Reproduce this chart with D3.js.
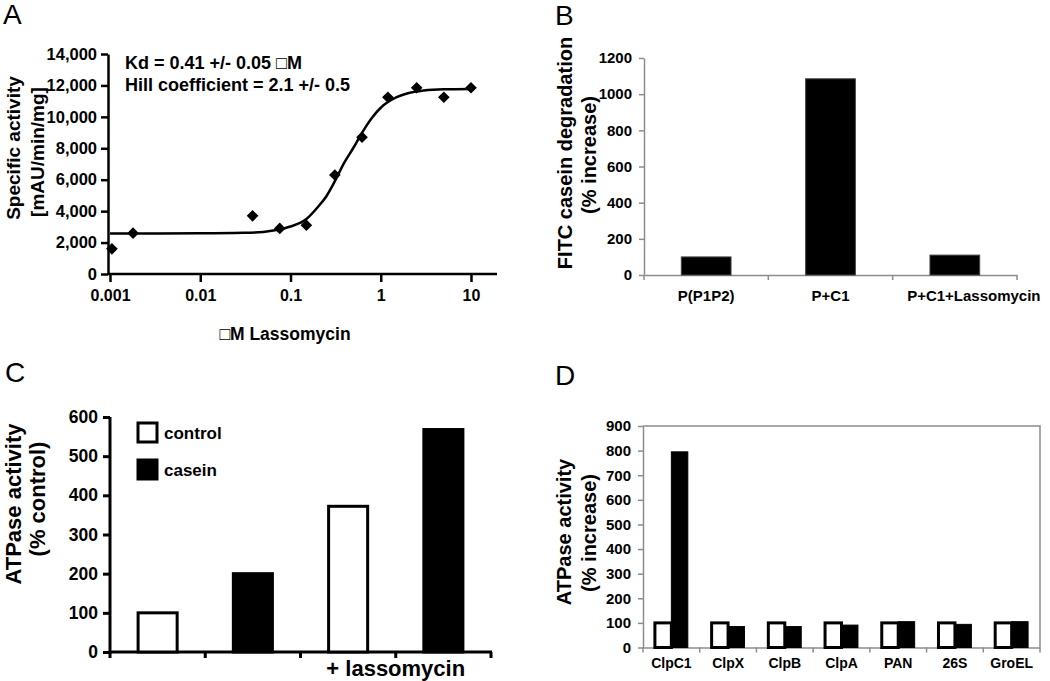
<!DOCTYPE html>
<html>
<head>
<meta charset="utf-8">
<script src="https://cdn.jsdelivr.net/npm/d3@7"></script>
<style>
  html, body { margin: 0; padding: 0; background: #fff; }
  svg { display: block; }
  text { font-family: "Liberation Sans", Arial, sans-serif; }
</style>
</head>
<body>
<svg id="chart" width="1050" height="681"></svg>
<script>
// ---------- DATA ----------
// Panel A: specific activity vs lassomycin concentration (µM)
const aConc = [0.00105, 0.0018, 0.038, 0.076, 0.15, 0.31, 0.62, 1.2, 2.5, 5, 10];
const aActivity = [1600, 2600, 3700, 2900, 3100, 6300, 8700, 11250, 11850, 11250, 11850];
// fitted curve
const aFitConc = [0.001, 0.01, 0.03, 0.05, 0.07, 0.1, 0.15, 0.2, 0.25, 0.3, 0.4, 0.5, 0.6, 0.8, 1, 1.5, 2, 3, 5, 10];
const aFitActivity = [2580, 2590, 2620, 2680, 2800, 3020, 3500, 4250, 4950, 5750, 7150, 8050, 8850, 9950, 10580, 11250, 11500, 11680, 11760, 11780];
const aYTicks = [0, 2000, 4000, 6000, 8000, 10000, 12000, 14000];
const aXTicks = [0.001, 0.01, 0.1, 1, 10];
const aXTickLabels = ["0.001", "0.01", "0.1", "1", "10"];
const aNote = ["Kd = 0.41 +/- 0.05 \u25A1M", "Hill coefficient = 2.1 +/- 0.5"];

// Panel B: FITC casein degradation
const bCategories = ["P(P1P2)", "P+C1", "P+C1+Lassomycin"];
const bValues = [100, 1085, 110];
const bYTicks = [0, 200, 400, 600, 800, 1000, 1200];

// Panel C: ATPase activity (% control)
const cConditions = ["control", "casein", "control + lassomycin", "casein + lassomycin"];
const cTreatment = ["control", "casein", "control", "casein"];
const cValues = [100, 200, 372, 568];
const cYTicks = [0, 100, 200, 300, 400, 500, 600];
const cLegend = ["control", "casein"];

// Panel D: ATPase activity (% increase) across AAA+ proteins
const dCategories = ["ClpC1", "ClpX", "ClpB", "ClpA", "PAN", "26S", "GroEL"];
const dControl = [100, 100, 100, 100, 100, 100, 100];
const dCasein = [795, 85, 85, 91, 105, 94, 105];
const dYTicks = [0, 100, 200, 300, 400, 500, 600, 700, 800, 900];

// ---------- DRAWING ----------
const svg = d3.select("#chart");
svg.append("rect").attr("width", 1050).attr("height", 681).attr("fill", "#fff");

const FONT = '"Liberation Sans", Arial, sans-serif';

function styleAxis(g, size, color, width) {
  g.attr("font-family", FONT).attr("font-size", size).attr("font-weight", "bold");
  g.selectAll("text").attr("fill", "#000");
  g.selectAll("line").attr("stroke", color).attr("stroke-width", width);
  g.selectAll(".domain").attr("stroke", color).attr("stroke-width", width);
}
function vLabel(x, y, txt, size) {
  svg.append("text")
    .attr("transform", `translate(${x},${y}) rotate(-90)`)
    .attr("text-anchor", "middle").attr("dy", "0.35em")
    .attr("font-size", size).attr("font-weight", "bold").text(txt);
}
function panelLetter(x, y, txt) {
  svg.append("text").attr("x", x).attr("y", y).attr("font-size", 28)
    .attr("font-family", FONT).text(txt);
}

// ===== Panel A =====
{
  const x = d3.scaleLog().domain([0.001, 10]).range([110, 471]);
  const y = d3.scaleLinear().domain([0, 14000]).range([274, 54]);
  const axX = 108;
  const gy = svg.append("g").attr("transform", `translate(${axX},0)`)
    .call(d3.axisLeft(y).tickValues(aYTicks).tickFormat(d3.format(",")).tickSize(7).tickSizeOuter(0).tickPadding(4));
  styleAxis(gy, 16.5, "#000", 2.5);
  const gx = svg.append("g").attr("transform", `translate(0,${y(0)})`)
    .call(d3.axisBottom(x).tickValues(aXTicks).tickFormat((d, i) => aXTickLabels[i]).tickSize(8).tickSizeOuter(0).tickPadding(8));
  gx.select(".domain").remove();
  styleAxis(gx, 16, "#000", 2.5);
  gx.append("line").attr("x1", axX).attr("x2", x(10) + 26)
    .attr("stroke", "#000").attr("stroke-width", 2.5);

  const line = d3.line().x((d, i) => x(aFitConc[i])).y(d => y(d)).curve(d3.curveMonotoneX);
  svg.append("path").attr("d", line(aFitActivity)).attr("fill", "none")
    .attr("stroke", "#000").attr("stroke-width", 2.5);

  svg.append("g").selectAll("path").data(aActivity).join("path")
    .attr("d", d3.symbol(d3.symbolSquare, 68))
    .attr("transform", (d, i) => `translate(${x(aConc[i])},${y(d)}) rotate(45)`)
    .attr("fill", "#000");

  svg.append("text").attr("x", 125).attr("y", 69).attr("font-size", 18).attr("font-weight", "bold").text(aNote[0]);
  svg.append("text").attr("x", 125).attr("y", 91).attr("font-size", 18).attr("font-weight", "bold").text(aNote[1]);

  svg.append("text").attr("x", 285).attr("y", 340).attr("text-anchor", "middle")
    .attr("font-size", 17.5).attr("font-weight", "bold").text("\u25A1M Lassomycin");
  vLabel(13, 148, "Specific activity", 19);
  vLabel(37, 152, "[mAU/min/mg]", 19);
  panelLetter(3, 24, "A");
}

// ===== Panel B =====
{
  const x = d3.scaleBand().domain(bCategories).range([644, 1017]);
  const y = d3.scaleLinear().domain([0, 1200]).range([275, 58]);
  const gy = svg.append("g").attr("transform", `translate(${x.range()[0]},0)`)
    .call(d3.axisLeft(y).tickValues(bYTicks).tickFormat(d3.format("d")).tickSize(5).tickSizeOuter(0).tickPadding(7));
  styleAxis(gy, 15, "#8c8c8c", 1.5);
  const gx = svg.append("g").attr("transform", `translate(0,${y(0)})`)
    .call(d3.axisBottom(x).tickSize(0).tickPadding(15));
  styleAxis(gx, 15, "#8c8c8c", 1.5);
  gx.selectAll(".tick text").attr("dx", (d, i) => i === bCategories.length - 1 ? 19 : 0);
  // boundary tick marks
  const bounds = bCategories.map(c => x(c)).concat([x.range()[1]]);
  gx.selectAll(".btick").data(bounds).join("line").attr("class", "btick")
    .attr("x1", d => d).attr("x2", d => d).attr("y1", 0).attr("y2", 5)
    .attr("stroke", "#8c8c8c").attr("stroke-width", 1.5);

  const bw = x.bandwidth() * 0.4;
  svg.append("g").selectAll("rect").data(bValues).join("rect")
    .attr("x", (d, i) => x(bCategories[i]) + (x.bandwidth() - bw) / 2)
    .attr("width", bw)
    .attr("y", d => y(d)).attr("height", d => y(0) - y(d))
    .attr("fill", "#000").attr("stroke", "#444").attr("stroke-width", 1);

  vLabel(565, 153, "FITC casein degradation", 20);
  vLabel(589, 155, "(% increase)", 20);
  panelLetter(555, 25, "B");
}

// ===== Panel C =====
{
  const x = d3.scaleBand().domain(cConditions).range([110, 491]);
  const y = d3.scaleLinear().domain([0, 600]).range([652, 417]);
  const gy = svg.append("g").attr("transform", `translate(${x.range()[0]},0)`)
    .call(d3.axisLeft(y).tickValues(cYTicks).tickSize(7).tickSizeOuter(0).tickPadding(5));
  styleAxis(gy, 17.5, "#000", 3);
  gy.select(".domain").attr("d", `M0,${y(600)}V${y(0) + 1.5}`);
  const gx = svg.append("g").attr("transform", `translate(0,${y(0)})`);
  gx.append("line").attr("x1", x.range()[0] - 1.5).attr("x2", x.range()[1] + 1)
    .attr("stroke", "#000").attr("stroke-width", 3);
  const bounds = cConditions.map(c => x(c)).concat([x.range()[1]]);
  gx.selectAll(".btick").data(bounds).join("line").attr("class", "btick")
    .attr("x1", d => d).attr("x2", d => d).attr("y1", 0).attr("y2", 6)
    .attr("stroke", "#000").attr("stroke-width", 3);

  const bw = x.bandwidth() * 0.41;
  svg.append("g").selectAll("rect").data(cValues).join("rect")
    .attr("x", (d, i) => x(cConditions[i]) + (x.bandwidth() - bw) / 2)
    .attr("width", bw)
    .attr("y", d => y(d)).attr("height", d => y(0) - y(d))
    .attr("fill", (d, i) => cTreatment[i] === "control" ? "#fff" : "#000")
    .attr("stroke", "#000").attr("stroke-width", 3);

  // group label centred between the lassomycin bars
  svg.append("text").attr("x", x(cConditions[3])).attr("y", 676).attr("text-anchor", "middle")
    .attr("font-size", 22).attr("font-weight", "bold").text("+ lassomycin");

  // legend
  const lg = svg.append("g").attr("transform", "translate(138,423)");
  lg.selectAll("rect").data(cLegend).join("rect")
    .attr("x", 0).attr("y", (d, i) => i * 37).attr("width", 19).attr("height", 19)
    .attr("fill", d => d === "control" ? "#fff" : "#000")
    .attr("stroke", "#000").attr("stroke-width", 3);
  lg.selectAll("text").data(cLegend).join("text")
    .attr("x", 26).attr("y", (d, i) => i * 37 + 10).attr("dy", "0.35em")
    .attr("font-size", 17).attr("font-weight", "bold").text(d => d);

  vLabel(13, 504, "ATPase activity", 22);
  vLabel(37, 499, "(% control)", 22);
  panelLetter(5, 382, "C");
}

// ===== Panel D =====
{
  const x = d3.scaleBand().domain(dCategories).range([643, 1040]);
  const sub = d3.scaleBand().domain(["control", "casein"]).range([x.bandwidth() * 0.21, x.bandwidth() * 0.79]);
  const y = d3.scaleLinear().domain([0, 900]).range([647.5, 426]);
  const gy = svg.append("g").attr("transform", `translate(${x.range()[0]},0)`)
    .call(d3.axisLeft(y).tickValues(dYTicks).tickSize(5).tickSizeOuter(0).tickPadding(7));
  styleAxis(gy, 15, "#8c8c8c", 1.5);
  // frame top & right
  svg.append("path").attr("d", `M${x.range()[0]},${y(900)}H${x.range()[1]}V${y(0)}`)
    .attr("fill", "none").attr("stroke", "#8c8c8c").attr("stroke-width", 1.5);
  const gx = svg.append("g").attr("transform", `translate(0,${y(0)})`)
    .call(d3.axisBottom(x).tickSize(0).tickPadding(11));
  styleAxis(gx, 14, "#8c8c8c", 1.5);
  const bounds = dCategories.map(c => x(c)).concat([x.range()[1]]);
  gx.selectAll(".btick").data(bounds).join("line").attr("class", "btick")
    .attr("x1", d => d).attr("x2", d => d).attr("y1", 0).attr("y2", 5)
    .attr("stroke", "#8c8c8c").attr("stroke-width", 1.5);

  const bars = svg.append("g");
  bars.selectAll("rect.ctl").data(dControl).join("rect").attr("class", "ctl")
    .attr("x", (d, i) => x(dCategories[i]) + sub("control"))
    .attr("width", sub.bandwidth())
    .attr("y", d => y(d)).attr("height", d => y(0) - y(d))
    .attr("fill", "#fff").attr("stroke", "#000").attr("stroke-width", 3);
  bars.selectAll("rect.cas").data(dCasein).join("rect").attr("class", "cas")
    .attr("x", (d, i) => x(dCategories[i]) + sub("casein"))
    .attr("width", sub.bandwidth())
    .attr("y", d => y(d)).attr("height", d => y(0) - y(d))
    .attr("fill", "#000").attr("stroke", "#000").attr("stroke-width", 1);

  vLabel(564, 532, "ATPase activity", 20);
  vLabel(589, 533, "(% increase)", 20);
  panelLetter(555, 385, "D");
}
</script>
</body>
</html>
